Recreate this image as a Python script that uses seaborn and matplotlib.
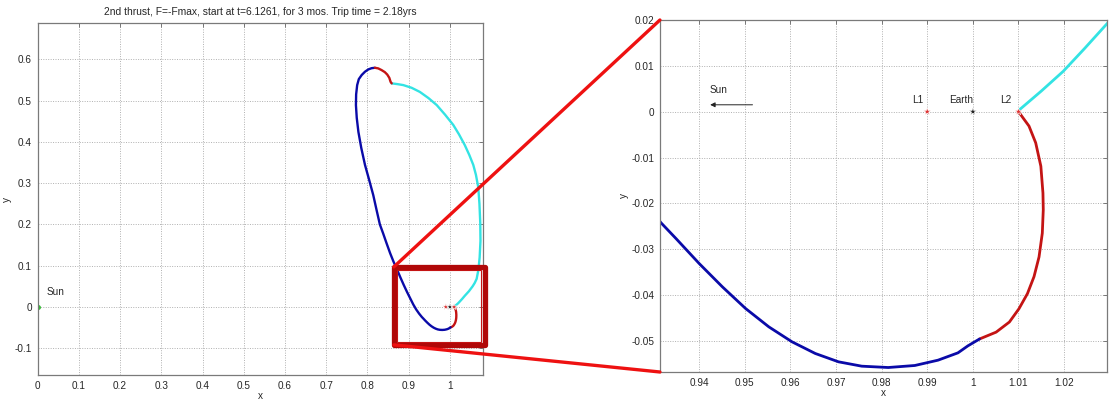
import matplotlib
matplotlib.use("Agg")
import matplotlib.pyplot as plt
from matplotlib.patches import Rectangle, ConnectionPatch
import seaborn as sns
import numpy as np

sns.set_style("white")
plt.rcParams["font.family"] = ["Liberation Sans", "DejaVu Sans"]

TITLE = "2nd thrust, F=-Fmax, start at t=6.1261, for 3 mos. Trip time = 2.18yrs"

# Trajectory segments in the rotating frame (x, y)
cyan_x = [0.8587, 0.872, 0.887, 0.907, 0.927, 0.948, 0.968, 0.988, 1.008, 1.022,
          1.036, 1.047, 1.0566, 1.063, 1.0686, 1.0715, 1.0735, 1.0740, 1.0720,
          1.0690, 1.0647, 1.0600, 1.0550, 1.0460, 1.0360, 1.0295, 1.0245, 1.0198,
          1.0150, 1.0103]
cyan_y = [0.5417, 0.540, 0.5375, 0.531, 0.521, 0.506, 0.489, 0.466, 0.441, 0.418,
          0.392, 0.368, 0.344, 0.320, 0.290, 0.250, 0.2026, 0.160, 0.120,
          0.090, 0.068, 0.058, 0.050, 0.038, 0.027, 0.0193, 0.0138, 0.0088,
          0.0045, 0.0005]

red_low_x = [1.0100, 1.0123, 1.01377, 1.0149, 1.01536, 1.01543, 1.01522, 1.0145,
             1.0134, 1.01196, 1.0101, 1.0080, 1.0051, 1.00145]
red_low_y = [0.0000, -0.00314, -0.0068, -0.0119, -0.01776, -0.0214, -0.0265, -0.0317,
             -0.0360, -0.0397, -0.0430, -0.0459, -0.0481, -0.0496]

blue_x = [1.00145, 0.99890, 0.99673, 0.99236, 0.98727, 0.98145, 0.97564, 0.97055,
          0.96545, 0.96036, 0.95527, 0.95018, 0.94509, 0.94000, 0.93491, 0.93164,
          0.925, 0.918, 0.911, 0.904, 0.896, 0.888, 0.880, 0.871, 0.863, 0.855,
          0.846, 0.838, 0.830, 0.822, 0.814, 0.804, 0.794, 0.785, 0.778, 0.774,
          0.772, 0.7725, 0.775, 0.779, 0.786, 0.794, 0.802, 0.810, 0.818]
blue_y = [-0.04960, -0.05110, -0.05262, -0.05422, -0.05538, -0.05582, -0.05553,
          -0.05458, -0.05276, -0.05022, -0.04695, -0.04295, -0.03822, -0.03313,
          -0.02767, -0.02425, -0.016, -0.006, 0.006, 0.020, 0.036, 0.053, 0.071,
          0.092, 0.110, 0.130, 0.155, 0.178, 0.200, 0.235, 0.271, 0.308, 0.344,
          0.385, 0.424, 0.458, 0.489, 0.515, 0.5375, 0.552, 0.562, 0.570, 0.5755,
          0.5785, 0.5795]

red_top_x = [0.818, 0.826, 0.834, 0.842, 0.848, 0.853, 0.856, 0.8587]
red_top_y = [0.5795, 0.578, 0.574, 0.569, 0.563, 0.555, 0.5455, 0.5417]

# Libration points and bodies
pts_x = [0.99, 1.00, 1.01]
pts_lab = ["L1", "Earth", "L2"]
pts_col = ["#dd3333", "#222222", "#dd3333"]

C_BLUE = "#0a0aa8"
C_RED = "#c41414"
C_CYAN = "#33e3e3"

fig = plt.figure(figsize=(11.11, 4.0), dpi=100)
ax1 = fig.add_axes([0.0338, 0.0625, 0.4009, 0.8800])
ax2 = fig.add_axes([0.5940, 0.0700, 0.4024, 0.8800])

FS = 7.2


def style_axes(ax):
    ax.grid(True, color="#b0b0b0", linestyle=(0, (1, 1.5)), linewidth=0.7)
    ax.tick_params(direction="in", top=True, right=True, length=3, width=0.6,
                   color="#666666", labelsize=FS, pad=4)
    for s in ax.spines.values():
        s.set_color("#7a7a7a")
        s.set_linewidth(0.9)
    ax.xaxis.set_major_formatter(matplotlib.ticker.FormatStrFormatter("%g"))
    ax.yaxis.set_major_formatter(matplotlib.ticker.FormatStrFormatter("%g"))


def draw_path(ax, lw, star):
    for xs, ys, c in [(cyan_x, cyan_y, C_CYAN), (red_low_x, red_low_y, C_RED),
                      (blue_x, blue_y, C_BLUE), (red_top_x, red_top_y, C_RED)]:
        sns.lineplot(x=xs, y=ys, sort=False, estimator=None, color=c, lw=lw, ax=ax)
    sns.scatterplot(x=pts_x, y=[0, 0, 0], hue=pts_lab, palette=pts_col, marker="*",
                    s=star, linewidth=0.4, legend=False, ax=ax, zorder=5)


# Left: full transfer
draw_path(ax1, 1.7, 22)
ax1.plot([0], [0], marker="o", color="#33bb33", ms=2.5)
ax1.text(0.022, 0.035, "Sun", fontsize=FS, ha="left", va="center")
ax1.set_xlim(0, 1.08)
ax1.set_ylim(-0.165, 0.688)
ax1.set_xticks(np.arange(0, 1.01, 0.1))
ax1.set_yticks(np.arange(-0.1, 0.61, 0.1))
style_axes(ax1)
ax1.set_title(TITLE, fontsize=7.4, pad=6)
ax1.set_xlabel("x", fontsize=FS, labelpad=0)
ax1.set_ylabel("y", fontsize=FS, labelpad=2)

# Zoom window
ax1.add_patch(Rectangle((0.864, -0.092), 0.221, 0.189, fill=False, ec="#b00808",
                        lw=3.8, joinstyle="round", clip_on=False, zorder=6))
ax1.add_patch(Rectangle((0.871, -0.085), 0.204, 0.175, fill=False, ec="#c41414",
                        lw=0.8, clip_on=False, zorder=6))

# Right: close-up near L2
draw_path(ax2, 2.0, 30)
ax2.set_xlim(0.9314, 1.0294)
ax2.set_ylim(-0.0568, 0.0200)
ax2.set_xticks(np.round(np.arange(0.94, 1.021, 0.01), 2))
ax2.set_yticks(np.round(np.arange(-0.05, 0.021, 0.01), 2))
style_axes(ax2)
ax2.set_xlabel("x", fontsize=FS, labelpad=0)
ax2.set_ylabel("y", fontsize=FS, labelpad=2)
ax2.text(0.9443, 0.0047, "Sun", fontsize=FS, ha="center", va="center")
ax2.annotate("", xy=(0.9418, 0.0015), xytext=(0.9523, 0.0015),
             arrowprops=dict(arrowstyle="-|>", color="#222222", lw=0.7,
                             mutation_scale=7))
for px, lab, dx in zip(pts_x, pts_lab, [-0.002, -0.0026, -0.0027]):
    ax2.text(px + dx, 0.0026, lab, fontsize=FS, ha="center", va="center")

# Connectors from the zoom window to the close-up axes
for ya, yb in [(0.097, 0.0200), (-0.092, -0.0568)]:
    con = ConnectionPatch(xyA=(0.864, ya), coordsA=ax1.transData,
                          xyB=(0.9314, yb), coordsB=ax2.transData,
                          color="#ee1111", lw=2.4, zorder=10)
    fig.add_artist(con)

fig.savefig("out.png", dpi=100)
